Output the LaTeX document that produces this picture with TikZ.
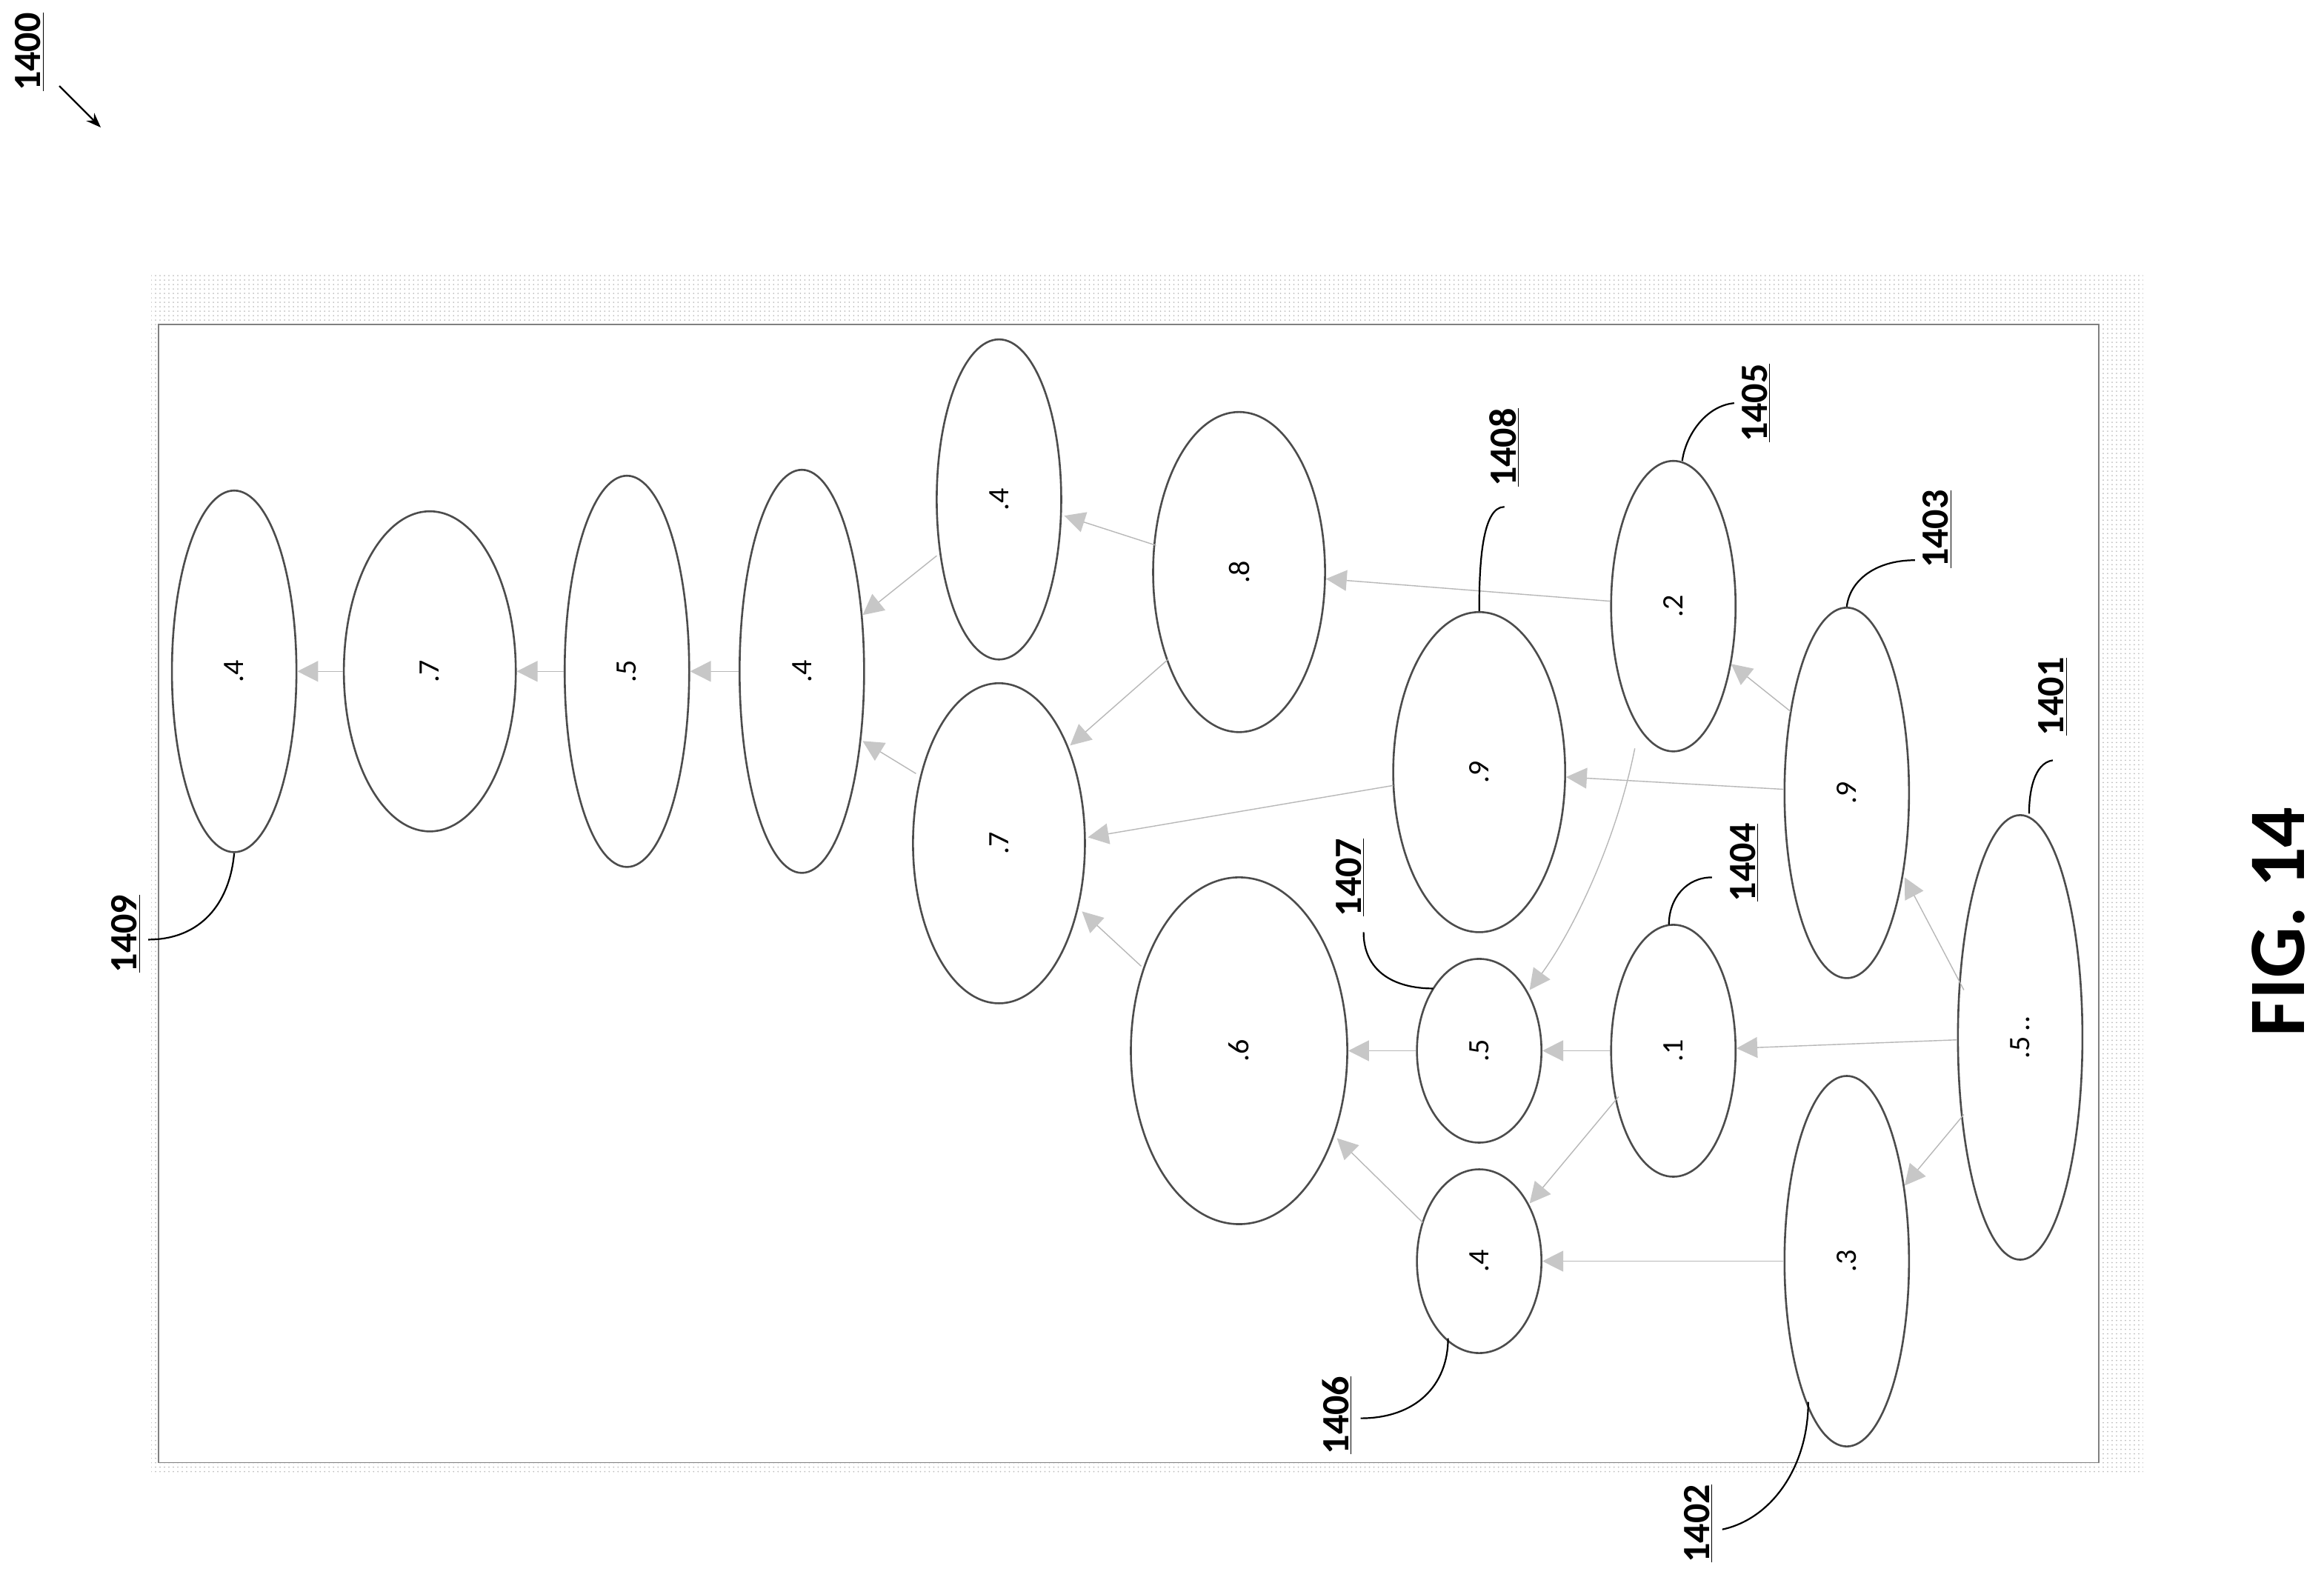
\documentclass[tikz,border=0pt]{standalone}
\usepackage{fontspec}
\setmainfont{Carlito}
\usetikzlibrary{arrows.meta,shapes.geometric,patterns}
\tikzset{
 ell/.style={ellipse,draw=black!70,line width=1.3pt,fill=white,minimum width=#1,inner sep=0pt},
 ar/.style={draw=black!28,line width=0.7pt,-{Triangle[length=14pt,width=14pt,color=black!22]}},
 lab/.style={rotate=90,font=\fontsize{26}{26}\selectfont\bfseries},
 lead/.style={draw=black,line width=1.1pt},
 val/.style={rotate=90,font=\fontsize{20}{20}\selectfont}
}
\newcommand{\E}[6]{\node[ell=#4*2pt,minimum height=#5*2pt] (#1) at (#2,#3) {}; \node[val] at (#1.center) {#6};}
\begin{document}
\begin{tikzpicture}[x=1pt,y=-1pt]
\useasboundingbox (0,0) rectangle (1568,1068);
\fill[pattern=dots,pattern color=black!25] (102,185) rectangle (1446,995);
\draw[black!50,fill=white,line width=0.8pt] (107,219) rectangle (1416,987);
\E{e1}{158}{453}{42}{122}{.4}
\E{e2}{290}{453}{58}{108}{.7}
\E{e3}{423}{453}{42}{132}{.5}
\E{e4}{541}{453}{42}{136}{.4}
\E{e5}{674}{337}{42}{108}{.4}
\E{e6}{836}{386}{58}{108}{.8}
\E{e7}{674}{569}{58}{108}{.7}
\E{e8}{998}{521}{58}{108}{.9}
\E{e9}{1129}{409}{42}{98}{.2}
\E{e10}{1246}{535}{42}{125}{.9}
\E{e11}{1363}{700}{42}{150}{.5\,..}
\E{e12}{836}{709}{73}{117}{.6}
\E{e13}{998}{709}{42}{62}{.5}
\E{e14}{1129}{709}{42}{85}{.1}
\E{e15}{998}{851}{42}{62}{.4}
\E{e16}{1246}{851}{42}{125}{.3}
\draw[ar] (1325,668) -- (1285,592);
\draw[ar] (e11) -- (e14);
\draw[ar] (1325,752) -- (1285,800);
\draw[ar] (1208,480) -- (1168,448);
\draw[ar] (e10) -- (e8);
\draw[ar] (e9) -- (e6);
\draw[ar] (1103,505) .. controls (1090,570) and (1060,630) .. (1032,668);
\draw[ar] (e14) -- (e13);
\draw[ar] (1092,740) -- (1032,812);
\draw[ar] (e16) -- (e15);
\draw[ar] (960,825) -- (902,768);
\draw[ar] (e13) -- (e12);
\draw[ar] (770,652) -- (730,615);
\draw[ar] (940,530) -- (734,565);
\draw[ar] (788,445) -- (722,503);
\draw[ar] (780,368) -- (718,348);
\draw[ar] (618,522) -- (582,500);
\draw[ar] (632,375) -- (582,415);
\draw[ar] (e4) -- (e3);
\draw[ar] (e3) -- (e2);
\draw[ar] (e2) -- (e1);
% labels
\node[lab] (l1400) at (20,35) {\underline{1400}};
\draw[lead,-{Stealth[length=10pt]}] (40,58) -- (68,86);
\node[lab] (l1409) at (85,630) {\underline{1409}};
\draw[lead] (100,634) .. controls (135,634) and (155,610) .. (e1.south);
\node[lab] (l1406) at (902,955) {\underline{1406}};
\draw[lead] (918,957) .. controls (955,957) and (977,935) .. (977,903);
\node[lab] (l1402) at (1146,1028) {\underline{1402}};
\draw[lead] (1162,1032) .. controls (1195,1025) and (1220,990) .. (1220,946);
\node[lab] (l1407) at (911,592) {\underline{1407}};
\draw[lead] (920,629) .. controls (920,655) and (940,667) .. (967,667);
\node[lab] (l1404) at (1177,582) {\underline{1404}};
\draw[lead] (1155,592) .. controls (1138,592) and (1126,606) .. (1126,624);
\node[lab] (l1408) at (1015,302) {\underline{1408}};
\draw[lead] (1015,342) .. controls (1000,342) and (998,380) .. (e8.north);
\node[lab] (l1405) at (1185,272) {\underline{1405}};
\draw[lead] (1170,272) .. controls (1150,274) and (1137,295) .. (1135,311);
\node[lab] (l1403) at (1307,357) {\underline{1403}};
\draw[lead] (1292,378) .. controls (1265,378) and (1248,392) .. (e10.north);
\node[lab] (l1401) at (1385,470) {\underline{1401}};
\draw[lead] (1385,513) .. controls (1372,515) and (1369,535) .. (1369,549);
\node[rotate=90,font=\fontsize{54}{54}\selectfont\bfseries] (fig) at (1537,622) {FIG. 14};
\end{tikzpicture}
\end{document}
